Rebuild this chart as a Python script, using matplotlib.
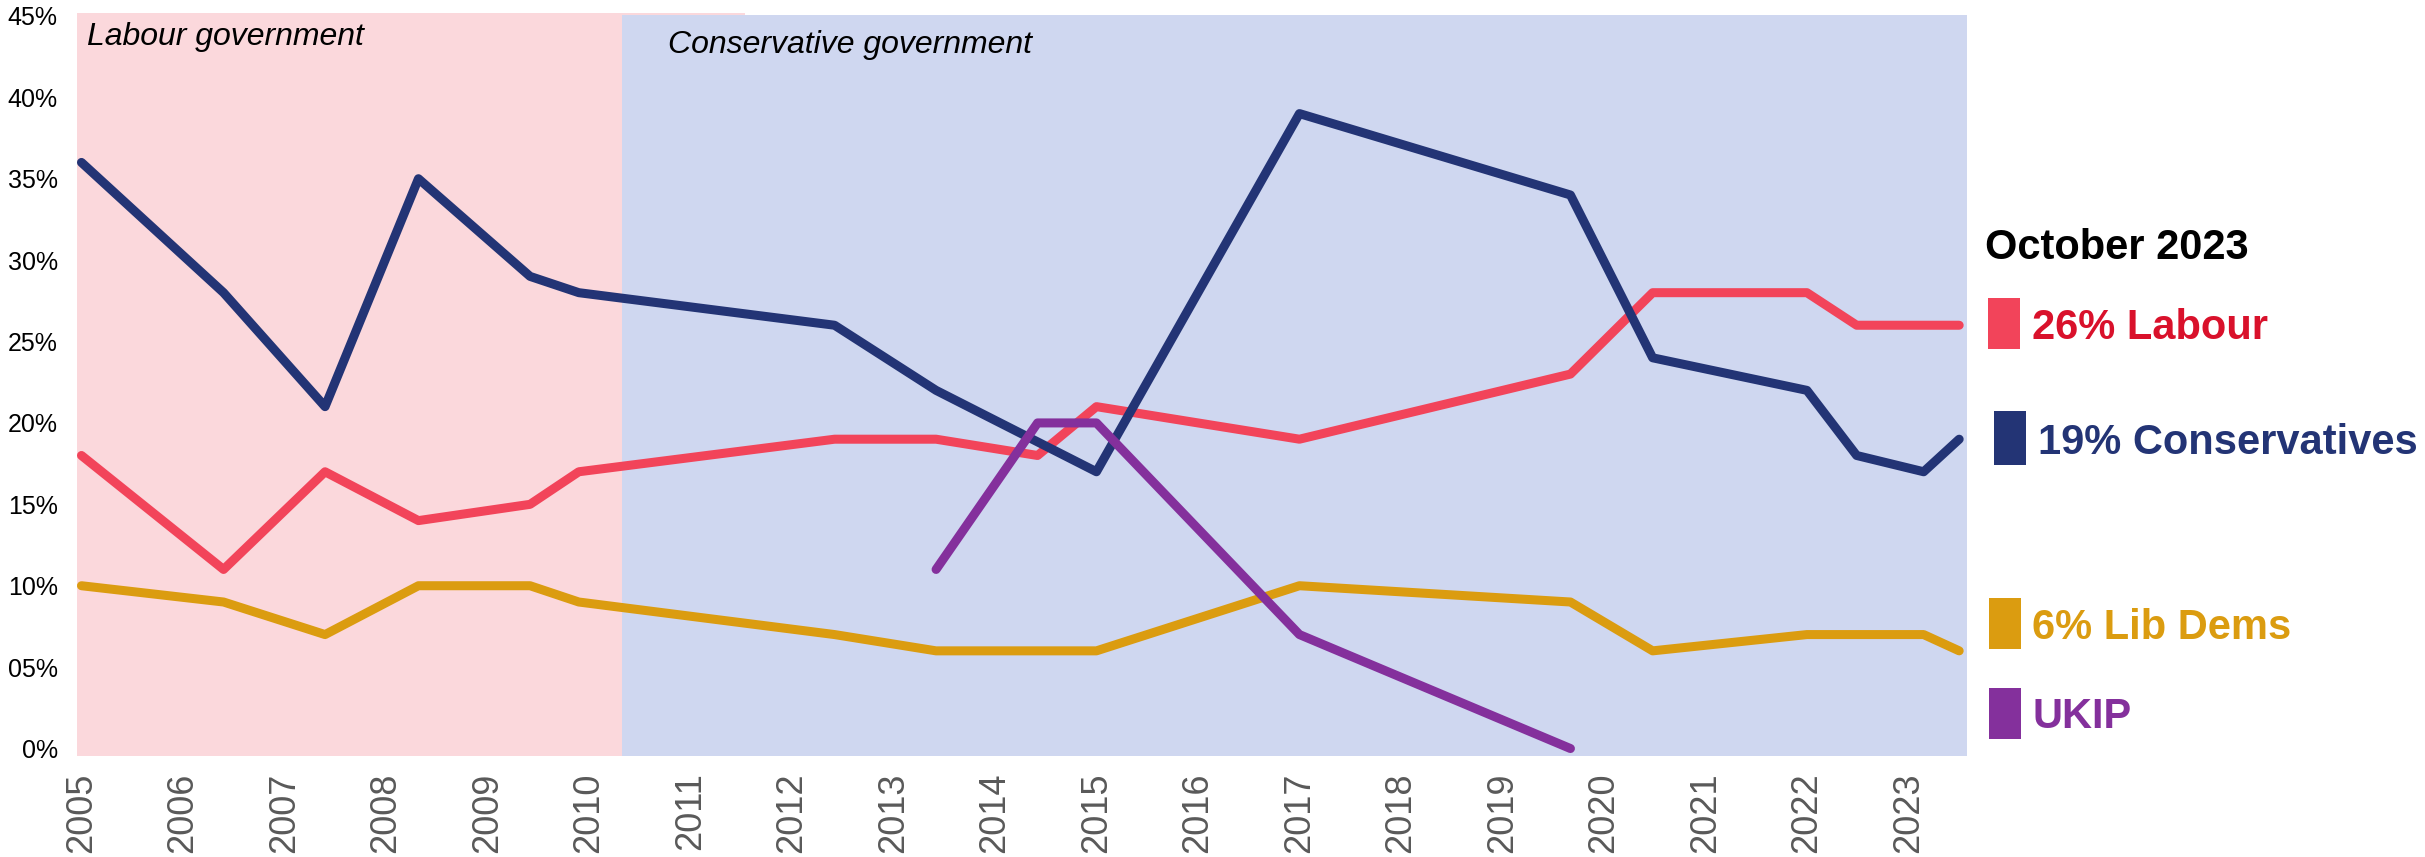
import matplotlib
matplotlib.use('Agg')
import matplotlib.pyplot as plt
from matplotlib.patches import Rectangle

plt.rcParams['font.family'] = ['Liberation Sans', 'DejaVu Sans']

# poll points (decimal year, % share)
con_x = [2005.0, 2006.4, 2007.4, 2008.32, 2009.42, 2009.9, 2012.42, 2013.42,
         2015.0, 2017.0, 2019.67, 2020.48, 2022.0, 2022.49, 2023.15, 2023.5]
con_y = [36, 28, 21, 35, 29, 28, 26, 22, 17, 39, 34, 24, 22, 18, 17, 19]

lab_x = [2005.0, 2006.4, 2007.4, 2008.32, 2009.42, 2009.9, 2012.42, 2013.42,
         2014.42, 2015.0, 2017.0, 2019.67, 2020.48, 2022.0, 2022.49, 2023.5]
lab_y = [18, 11, 17, 14, 15, 17, 19, 19, 18, 21, 19, 23, 28, 28, 26, 26]

ld_x = [2005.0, 2006.4, 2007.4, 2008.32, 2009.42, 2009.9, 2012.42, 2013.42,
        2015.0, 2017.0, 2019.67, 2020.48, 2022.0, 2023.15, 2023.5]
ld_y = [10, 9, 7, 10, 10, 9, 7, 6, 6, 10, 9, 6, 7, 7, 6]

ukip_x = [2013.42, 2014.42, 2015.0, 2017.0, 2019.67]
ukip_y = [11, 20, 20, 7, 0]

years = list(range(2005, 2024))
pct_ticks = [0, 5, 10, 15, 20, 25, 30, 35, 40, 45]
pct_labels = ['0%', '05%', '10%', '15%', '20%', '25%', '30%', '35%', '40%', '45%']

# government periods
labour_gov = (2004.959, 2010.33)
cons_gov = (2010.33, 2023.577)

legend_items = [('26% Labour', '#f2445a', '#d9112b'),
                ('19% Conservatives', '#233475', '#233475'),
                ('6% Lib Dems', '#db9c10', '#db9c10'),
                ('UKIP', '#84309c', '#84309c')]

W, H = 2425, 857
fig = plt.figure(figsize=(W / 100, H / 100), dpi=100)

def fx(px):
    return px / W

def fy(py):
    return 1 - py / H

ax = fig.add_axes([fx(77.3), fy(755.7), fx(1967) - fx(77.3), fy(13.3) - fy(755.7)])
ax.set_xlim(2004.959, 2023.577)
ax.set_ylim(-0.44, 45.16)

ax.fill_between(labour_gov, -0.44, 45.16, color='#fbd8dc', lw=0, zorder=0)
# the pink band pokes out a little along the top edge
ax.fill_between((2010.33, 2011.54), 45.05, 45.16, color='#fbd8dc', lw=0, zorder=0)
ax.fill_between(cons_gov, -0.44, 45.05, color='#cfd7f0', lw=0, zorder=0)

lw = 6.5
ax.plot(lab_x, lab_y, color='#f2445a', lw=lw, solid_capstyle='round', zorder=2)
ax.plot(ld_x, ld_y, color='#db9c10', lw=lw, solid_capstyle='round', zorder=2)
ax.plot(con_x, con_y, color='#233475', lw=lw, solid_capstyle='round', zorder=3)
ax.plot(ukip_x, ukip_y, color='#84309c', lw=lw, solid_capstyle='round', zorder=4)

for s in ax.spines.values():
    s.set_visible(False)

ax.set_yticks(pct_ticks)
ax.set_yticklabels(pct_labels, fontsize=18)
ax.set_xticks(years)
ax.set_xticklabels([str(y) for y in years], rotation=90, fontsize=26, color='#595959')
ax.tick_params(axis='y', length=0, pad=14)
ax.tick_params(axis='x', length=0, pad=12)

fig.text(fx(87), fy(45), 'Labour government', fontsize=23, style='italic', va='baseline')
fig.text(fx(668), fy(52.7), 'Conservative government', fontsize=23, style='italic', va='baseline')

# right-hand key
fig.text(fx(1985), fy(259), 'October 2023', fontsize=30, fontweight='bold', va='baseline')
boxes = [(1988, 298, 349), (1994, 411, 465), (1989, 598, 649), (1989, 687.5, 738.6)]
baselines = [(2032, 339), (2038, 453.6), (2032, 638.6), (2033, 728)]
for (label, boxc, textc), (bx, by0, by1), (tx, ty) in zip(legend_items, boxes, baselines):
    fig.patches.append(Rectangle((fx(bx), fy(by1)), fx(32), fy(by0) - fy(by1),
                                 transform=fig.transFigure, color=boxc, lw=0))
    fig.text(fx(tx), fy(ty), label, fontsize=30, fontweight='bold', color=textc,
             va='baseline')

fig.savefig('out.png', dpi=100)
